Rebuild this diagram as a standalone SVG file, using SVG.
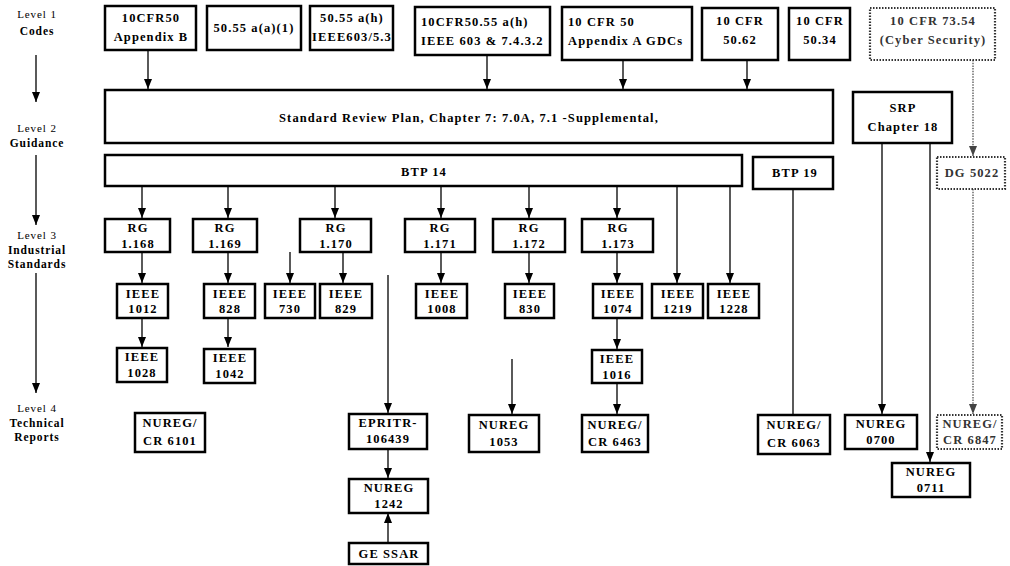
<svg xmlns="http://www.w3.org/2000/svg" width="1010" height="566" viewBox="0 0 1010 566">
<style>
.b{fill:#fff;stroke:#000;stroke-width:2.5}
.bd{fill:#fff;stroke:#333;stroke-width:2.2;stroke-dasharray:1.5 1.5}
.t{font-family:"Liberation Serif",serif;font-weight:bold;font-size:12.5px;letter-spacing:1.1px;text-anchor:middle;fill:#000}
.tl{font-family:"Liberation Serif",serif;font-weight:bold;font-size:12.5px;letter-spacing:1.1px;text-anchor:start;fill:#000}
.tg{fill:#333}
.lv{font-family:"Liberation Serif",serif;font-size:11px;letter-spacing:0.9px;text-anchor:middle;fill:#000}
.lb{font-family:"Liberation Serif",serif;font-weight:bold;font-size:11.5px;letter-spacing:0.9px;text-anchor:middle;fill:#000}
.c{stroke:#000;stroke-width:1.3;fill:none}
.ca{stroke:#000;stroke-width:1.3;fill:none;marker-end:url(#ah)}
.cd{stroke:#444;stroke-width:1.2;fill:none;stroke-dasharray:1.5 1.2;marker-end:url(#ahg)}
</style>
<defs>
<marker id="ah" markerUnits="userSpaceOnUse" markerWidth="10" markerHeight="8" refX="10" refY="4" orient="auto"><path d="M0,0 L10,4 L0,8 z" fill="#000"/></marker>
<marker id="ahg" markerUnits="userSpaceOnUse" markerWidth="10" markerHeight="8" refX="10" refY="4" orient="auto"><path d="M0,0 L10,4 L0,8 z" fill="#444"/></marker>
</defs>
<rect width="1010" height="566" fill="#fff"/>

<g id="levels">
<text class="lv" x="37" y="18">Level 1</text>
<text class="lb" x="37" y="35">Codes</text>
<text class="lv" x="37" y="132">Level 2</text>
<text class="lb" x="37" y="147">Guidance</text>
<text class="lv" x="37" y="239">Level 3</text>
<text class="lb" x="37" y="254">Industrial</text>
<text class="lb" x="37" y="268">Standards</text>
<text class="lv" x="37" y="412">Level 4</text>
<text class="lb" x="37" y="427">Technical</text>
<text class="lb" x="37" y="441">Reports</text>
</g>

<g id="connectors">
<line class="ca" x1="36" y1="55" x2="36" y2="102"/>
<line class="ca" x1="36" y1="155" x2="36" y2="225"/>
<line class="ca" x1="36" y1="273" x2="36" y2="393"/>
<line class="ca" x1="148" y1="50" x2="148" y2="89"/>
<line class="ca" x1="487" y1="55" x2="487" y2="89"/>
<line class="ca" x1="623" y1="60" x2="623" y2="89"/>
<line class="ca" x1="747" y1="60" x2="747" y2="89"/>
<line class="cd" x1="973" y1="60" x2="973" y2="156"/>
<line class="ca" x1="142" y1="186" x2="142" y2="218"/>
<line class="ca" x1="228" y1="186" x2="228" y2="218"/>
<line class="ca" x1="335" y1="186" x2="335" y2="218"/>
<line class="ca" x1="441" y1="186" x2="441" y2="218"/>
<line class="ca" x1="529" y1="186" x2="529" y2="218"/>
<line class="ca" x1="617" y1="186" x2="617" y2="218"/>
<line class="ca" x1="677" y1="186" x2="677" y2="283"/>
<line class="ca" x1="730" y1="186" x2="730" y2="283"/>
<line class="c" x1="793" y1="189" x2="793" y2="414"/>
<line class="ca" x1="882" y1="143" x2="882" y2="414"/>
<line class="ca" x1="930" y1="143" x2="930" y2="462"/>
<line class="cd" x1="973" y1="189" x2="973" y2="414"/>
<line class="ca" x1="142" y1="252" x2="142" y2="283"/>
<line class="ca" x1="228" y1="252" x2="228" y2="283"/>
<line class="ca" x1="290" y1="252" x2="290" y2="283"/>
<line class="ca" x1="343" y1="252" x2="343" y2="283"/>
<line class="ca" x1="441" y1="252" x2="441" y2="283"/>
<line class="ca" x1="529" y1="252" x2="529" y2="283"/>
<line class="ca" x1="617" y1="252" x2="617" y2="283"/>
<line class="ca" x1="142" y1="318" x2="142" y2="347"/>
<line class="ca" x1="228" y1="318" x2="228" y2="347"/>
<line class="ca" x1="617" y1="318" x2="617" y2="349"/>
<line class="ca" x1="617" y1="383" x2="617" y2="414"/>
<line class="ca" x1="388" y1="275" x2="388" y2="413"/>
<line class="ca" x1="512" y1="359" x2="512" y2="414"/>
<line class="ca" x1="388" y1="449" x2="388" y2="478"/>
<line class="ca" x1="388" y1="543" x2="388" y2="513"/>
</g>

<g id="n_appB"><rect class="b" x="105" y="6" width="91" height="44"/><text class="t" x="151" y="22">10CFR50</text><text class="t" x="151" y="41">Appendix B</text></g>
<g id="n_5055aa"><rect class="b" x="207" y="6" width="94" height="44"/><text class="t" x="254" y="32">50.55 a(a)(1)</text></g>
<g id="n_5055ah"><rect class="b" x="310" y="6" width="83" height="44"/><text class="t" x="352" y="22">50.55 a(h)</text><text class="t" x="352" y="41">IEEE603/5.3</text></g>
<g id="n_603"><rect class="b" x="415" y="7" width="135" height="48"/><text class="tl" x="421" y="26">10CFR50.55 a(h)</text><text class="tl" x="421" y="45">IEEE 603 &amp; 7.4.3.2</text></g>
<g id="n_gdc"><rect class="b" x="562" y="7" width="130" height="53"/><text class="tl" x="568" y="26">10 CFR 50</text><text class="tl" x="568" y="45">Appendix A GDCs</text></g>
<g id="n_5062"><rect class="b" x="702" y="8" width="76" height="52"/><text class="t" x="740" y="25">10 CFR</text><text class="t" x="740" y="44">50.62</text></g>
<g id="n_5034"><rect class="b" x="789" y="8" width="61" height="52"/><text class="t" x="820" y="25">10 CFR</text><text class="t" x="820" y="44">50.34</text></g>
<g id="n_7354"><rect class="bd" x="870" y="8" width="125" height="52"/><text class="t tg" x="933" y="25">10 CFR 73.54</text><text class="t tg" x="933" y="44">(Cyber Security)</text></g>

<g id="n_srp"><rect class="b" x="105" y="90" width="728" height="53"/><text class="t" x="469" y="122">Standard Review Plan, Chapter 7: 7.0A, 7.1 -Supplemental,</text></g>
<g id="n_srp18"><rect class="b" x="853" y="92" width="99" height="51"/><text class="t" x="903" y="112">SRP</text><text class="t" x="903" y="131">Chapter 18</text></g>

<g id="n_btp14"><rect class="b" x="105" y="155" width="637" height="31"/><text class="t" x="424" y="176">BTP 14</text></g>
<g id="n_btp19"><rect class="b" x="753" y="157" width="80" height="32"/><text class="t" x="795" y="177">BTP 19</text></g>
<g id="n_dg5022"><rect class="bd" x="937" y="157" width="68" height="32"/><text class="t tg" x="972" y="177">DG 5022</text></g>

<g id="n_rg1168"><rect class="b" x="105" y="219" width="65" height="33"/><text class="t" x="138" y="232">RG</text><text class="t" x="138" y="248">1.168</text></g>
<g id="n_rg1169"><rect class="b" x="193" y="219" width="64" height="33"/><text class="t" x="225" y="232">RG</text><text class="t" x="225" y="248">1.169</text></g>
<g id="n_rg1170"><rect class="b" x="300" y="219" width="71" height="33"/><text class="t" x="336" y="232">RG</text><text class="t" x="336" y="248">1.170</text></g>
<g id="n_rg1171"><rect class="b" x="405" y="219" width="70" height="33"/><text class="t" x="440" y="232">RG</text><text class="t" x="440" y="248">1.171</text></g>
<g id="n_rg1172"><rect class="b" x="493" y="219" width="72" height="33"/><text class="t" x="529" y="232">RG</text><text class="t" x="529" y="248">1.172</text></g>
<g id="n_rg1173"><rect class="b" x="582" y="219" width="71" height="33"/><text class="t" x="618" y="232">RG</text><text class="t" x="618" y="248">1.173</text></g>

<g id="n_ieee1012"><rect class="b" x="117" y="284" width="51" height="34"/><text class="t" x="143" y="298">IEEE</text><text class="t" x="143" y="313">1012</text></g>
<g id="n_ieee828"><rect class="b" x="204" y="284" width="51" height="34"/><text class="t" x="230" y="298">IEEE</text><text class="t" x="230" y="313">828</text></g>
<g id="n_ieee730"><rect class="b" x="265" y="284" width="50" height="34"/><text class="t" x="290" y="298">IEEE</text><text class="t" x="290" y="313">730</text></g>
<g id="n_ieee829"><rect class="b" x="320" y="284" width="52" height="34"/><text class="t" x="346" y="298">IEEE</text><text class="t" x="346" y="313">829</text></g>
<g id="n_ieee1008"><rect class="b" x="416" y="284" width="51" height="34"/><text class="t" x="442" y="298">IEEE</text><text class="t" x="442" y="313">1008</text></g>
<g id="n_ieee830"><rect class="b" x="505" y="284" width="49" height="34"/><text class="t" x="530" y="298">IEEE</text><text class="t" x="530" y="313">830</text></g>
<g id="n_ieee1074"><rect class="b" x="593" y="284" width="49" height="34"/><text class="t" x="618" y="298">IEEE</text><text class="t" x="618" y="313">1074</text></g>
<g id="n_ieee1219"><rect class="b" x="652" y="284" width="51" height="34"/><text class="t" x="678" y="298">IEEE</text><text class="t" x="678" y="313">1219</text></g>
<g id="n_ieee1228"><rect class="b" x="708" y="284" width="51" height="34"/><text class="t" x="734" y="298">IEEE</text><text class="t" x="734" y="313">1228</text></g>

<g id="n_ieee1028"><rect class="b" x="117" y="348" width="50" height="34"/><text class="t" x="142" y="361">IEEE</text><text class="t" x="142" y="377">1028</text></g>
<g id="n_ieee1042"><rect class="b" x="204" y="349" width="51" height="34"/><text class="t" x="230" y="362">IEEE</text><text class="t" x="230" y="378">1042</text></g>
<g id="n_ieee1016"><rect class="b" x="592" y="350" width="50" height="33"/><text class="t" x="617" y="363">IEEE</text><text class="t" x="617" y="379">1016</text></g>

<g id="n_cr6101"><rect class="b" x="135" y="413" width="70" height="39"/><text class="t" x="170" y="427">NUREG/</text><text class="t" x="170" y="445">CR 6101</text></g>
<g id="n_epri"><rect class="b" x="349" y="414" width="78" height="35"/><text class="t" x="388" y="427">EPRITR-</text><text class="t" x="388" y="443">106439</text></g>
<g id="n_nureg1053"><rect class="b" x="469" y="415" width="70" height="37"/><text class="t" x="504" y="429">NUREG</text><text class="t" x="504" y="446">1053</text></g>
<g id="n_cr6463"><rect class="b" x="582" y="415" width="66" height="37"/><text class="t" x="615" y="429">NUREG/</text><text class="t" x="615" y="446">CR 6463</text></g>
<g id="n_cr6063"><rect class="b" x="758" y="415" width="72" height="39"/><text class="t" x="794" y="429">NUREG/</text><text class="t" x="794" y="447">CR 6063</text></g>
<g id="n_nureg0700"><rect class="b" x="845" y="415" width="72" height="34"/><text class="t" x="881" y="428">NUREG</text><text class="t" x="881" y="444">0700</text></g>
<g id="n_cr6847"><rect class="bd" x="937" y="415" width="65" height="34"/><text class="t tg" x="970" y="428">NUREG/</text><text class="t tg" x="970" y="444">CR 6847</text></g>
<g id="n_nureg0711"><rect class="b" x="892" y="463" width="78" height="34"/><text class="t" x="931" y="476">NUREG</text><text class="t" x="931" y="492">0711</text></g>
<g id="n_nureg1242"><rect class="b" x="349" y="479" width="79" height="34"/><text class="t" x="389" y="492">NUREG</text><text class="t" x="389" y="508">1242</text></g>
<g id="n_gessar"><rect class="b" x="349" y="543" width="79" height="21"/><text class="t" x="389" y="558">GE SSAR</text></g>
</svg>
